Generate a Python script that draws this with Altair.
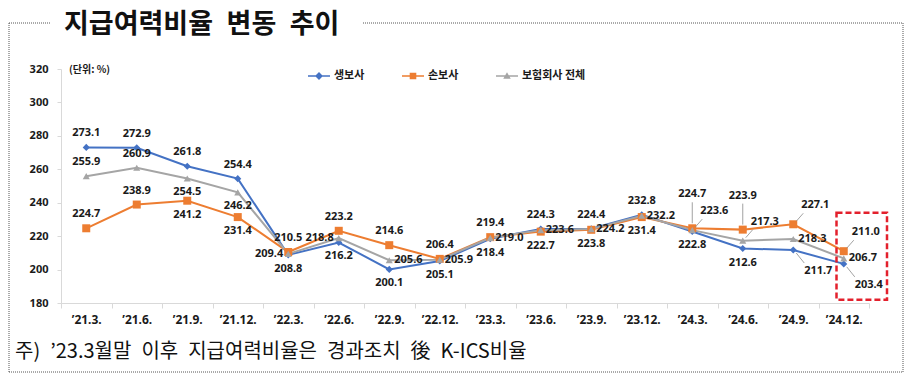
import altair as alt
import pandas as pd

CATS = ["’21.3.", "’21.6.", "’21.9.", "’21.12.", "’22.3.", "’22.6.", "’22.9.", "’22.12.",
        "’23.3.", "’23.6.", "’23.9.", "’23.12.", "’24.3.", "’24.6.", "’24.9.", "’24.12."]
SERIES = ["생보사", "손보사", "보험회사 전체"]
LIFE = [273.1, 272.9, 261.8, 254.4, 208.8, 216.2, 200.1, 205.1, 218.4, 224.3, 224.4, 232.8, 222.8, 212.6, 211.7, 203.4]
NONLIFE = [224.7, 238.9, 241.2, 231.4, 210.5, 223.2, 214.6, 206.4, 219.4, 222.7, 223.8, 231.4, 224.7, 223.9, 227.1, 211.0]
TOTAL = [255.9, 260.9, 254.5, 246.2, 209.4, 218.8, 205.6, 205.9, 219.0, 223.6, 224.2, 232.2, 223.6, 217.3, 218.3, 206.7]

# label placement codes (a=above, A=far above, b=below, r=right, l=left, ar/br=diagonal)
POS_LIFE = ["a", "a", "a", "a", "b", "b", "b", "b", "b", "a", "a", "a", "b", "b", "br", "br"]
POS_NONLIFE = ["a", "a", "b", "b", "a", "a", "a", "a", "a", "b", "b", "b", "A", "A", "ar", "ar"]
POS_TOTAL = ["a", "a", "b", "b", "l", "l", "r", "r", "r", "r", "r", "r", "ar", "ar", "r", "r"]

HIGHLIGHT = {"cat": CATS[-1], "lo": 182, "hi": 234}

TITLE = "지급여력비율\u2002변동\u2002추이"
UNIT = "(단위: %)"
NOTE = "주)\u2002’23.3월말\u2002이후\u2002지급여력비율은\u2002경과조치\u2002後\u2002K-ICS비율"

COLORS = ["#4472C4", "#ED7D31", "#A5A5A5"]
SHAPES = ["diamond", "square", "triangle-up"]
SIZES = [50, 64, 50]
LEGEND_PATHS = [
    "M-1,-0.07H1V0.07H-1Z M0,-0.36L0.36,0L0,0.36L-0.36,0Z",
    "M-1,-0.07H1V0.07H-1Z M-0.3,-0.3H0.3V0.3H-0.3Z",
    "M-1,-0.07H1V0.07H-1Z M0,-0.34L0.34,0.26H-0.34Z",
]

rows = []
for name, vals, pos in zip(SERIES, [LIFE, NONLIFE, TOTAL], [POS_LIFE, POS_NONLIFE, POS_TOTAL]):
    for c, v, p in zip(CATS, vals, pos):
        rows.append({"cat": c, "series": name, "val": v, "pos": p})
df = pd.DataFrame(rows)

FONT = "Noto Sans CJK KR"
NUMFONT = "Noto Sans"
DARK = "#1a1a1a"
AXC = "#d9d9d9"

X = alt.X("cat:N", sort=CATS,
          scale=alt.Scale(type="band", domain=CATS, paddingInner=0, paddingOuter=0),
          axis=alt.Axis(title=None, labelAngle=0, tickBand="extent", domainColor=AXC, tickColor=AXC,
                        tickSize=5, labelFont=NUMFONT, labelFontSize=12, labelFontWeight="bold",
                        labelColor=DARK, labelPadding=6))
YSCALE = alt.Scale(domain=[180, 320], nice=False, zero=False)
YAXIS = alt.Axis(title=None, values=list(range(180, 321, 20)), grid=False, domainColor=AXC,
                 tickColor=AXC, tickSize=4, labelFont=NUMFONT, labelFontSize=11,
                 labelFontWeight="bold", labelColor=DARK, labelPadding=9)
Y = alt.Y("val:Q", scale=YSCALE, axis=YAXIS)

layers = []
for name, col in zip(SERIES, COLORS):
    layers.append(alt.Chart(df).transform_filter(alt.datum.series == name)
                  .mark_line(color=col, strokeWidth=2).encode(x=X, y=Y))
for name, col, shp, sz in zip(SERIES, COLORS, SHAPES, SIZES):
    layers.append(alt.Chart(df).transform_filter(alt.datum.series == name)
                  .mark_point(shape=shp, filled=True, size=sz, color=col, opacity=1).encode(x=X, y=Y))

# leader lines
LEADERS = {"A": dict(yOffset=-5, y2Offset=-26, xOffset=0, x2Offset=0),
           "ar": dict(xOffset=3, yOffset=-3, x2Offset=10, y2Offset=-11),
           "br": dict(xOffset=3, yOffset=3, x2Offset=11, y2Offset=13)}
for code, off in LEADERS.items():
    layers.append(alt.Chart(df).transform_filter(alt.datum.pos == code)
                  .mark_rule(color="#8a8a8a", strokeWidth=0.8, **off)
                  .encode(x=X, y=Y, x2=alt.X2("cat:N"), y2=alt.Y2("val:Q")))

LABELS = {"a": dict(dx=0, dy=-14, align="center"),
          "A": dict(dx=0, dy=-34, align="center"),
          "b": dict(dx=0, dy=14, align="center"),
          "r": dict(dx=5, dy=0, align="left"),
          "l": dict(dx=-5, dy=0, align="right"),
          "ar": dict(dx=22, dy=-19, align="center"),
          "br": dict(dx=25, dy=21, align="center")}
for code, st in LABELS.items():
    layers.append(alt.Chart(df).transform_filter(alt.datum.pos == code)
                  .mark_text(font=NUMFONT, fontSize=11, fontWeight="bold", color=DARK,
                             baseline="middle", **st)
                  .encode(x=X, y=Y, text=alt.Text("val:Q", format=".1f")))

# highlight box
hl = pd.DataFrame([HIGHLIGHT])
layers.append(alt.Chart(hl).mark_rect(filled=False, stroke="#E3202C", strokeWidth=2.5,
                                      strokeDash=[6, 3], xOffset=18, x2Offset=21)
              .encode(x=X, y=alt.Y("hi:Q", scale=YSCALE, axis=YAXIS), y2="lo:Q"))

# legend (legend-only layer)
LEG = alt.Legend(orient="none", legendX=247, legendY=-4, direction="horizontal", title=None,
                 symbolSize=484, symbolStrokeWidth=0, labelFont=FONT, labelFontSize=11,
                 labelFontWeight="bold", labelColor=DARK, columnPadding=37, labelOffset=4, padding=0)
layers.append(alt.Chart(df).transform_filter("false").mark_point(filled=True, opacity=1)
              .encode(shape=alt.Shape("series:N", scale=alt.Scale(domain=SERIES, range=LEGEND_PATHS), legend=LEG),
                      color=alt.Color("series:N", scale=alt.Scale(domain=SERIES, range=COLORS), legend=LEG)))

one = alt.Data(values=[{}])
# title, unit, footnote
layers.append(alt.Chart(one).mark_text(text=TITLE, align="left", baseline="middle",
                                       font=FONT, fontSize=27, fontWeight="bold", color="#111")
              .encode(x=alt.value(3), y=alt.value(-44)))
layers.append(alt.Chart(one).mark_text(text=UNIT, align="left", baseline="middle",
                                       font=FONT, fontSize=10, fontWeight="bold", color=DARK)
              .encode(x=alt.value(8), y=alt.value(1)))
layers.append(alt.Chart(one).mark_text(text=NOTE, align="left", baseline="middle",
                                       font=FONT, fontSize=20, color="#111")
              .encode(x=alt.value(-46), y=alt.value(283)))

# dotted frame
BORDER = dict(color="#555555", strokeWidth=1, strokeDash=[1, 1])
for x1, x2, y1, y2 in [(-52, -10, -46, -46), (302, 842, -46, -46), (-52, -52, -46, 303),
                       (842, 842, -46, 303), (-52, 842, 303, 303)]:
    layers.append(alt.Chart(one).mark_rule(**BORDER)
                  .encode(x=alt.value(x1), x2=alt.value(x2), y=alt.value(y1), y2=alt.value(y2)))

chart = alt.layer(*layers).properties(
    width=808, height=234,
    padding={"left": 53, "top": 61, "right": 35, "bottom": 74},
    autosize=alt.AutoSizeParams(type="none"),
    background="white",
).configure_view(stroke=None)

chart.save("out.html", embed_options={"renderer": "svg", "actions": False})
